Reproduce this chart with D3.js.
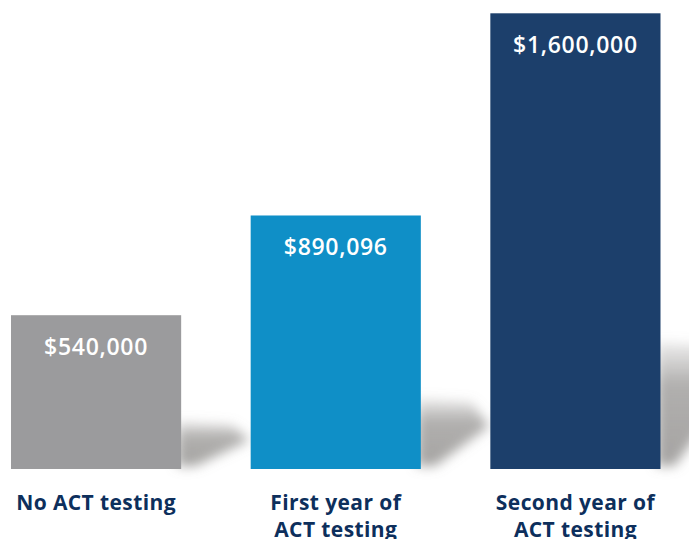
<!DOCTYPE html>
<html>
<head>
<meta charset="utf-8">
<script src="https://cdn.jsdelivr.net/npm/d3@7"></script>
<style>
  html, body { margin: 0; padding: 0; background: #ffffff; }
  svg { display: block; }
</style>
</head>
<body>
<div id="viz"></div>
<script>
// Chart data
const categories = ["No ACT testing", "First year of ACT testing", "Second year of ACT testing"];
const categoryLines = [["No ACT testing"], ["First year of", "ACT testing"], ["Second year of", "ACT testing"]];
const values = [540000, 890096, 1600000];
const valueLabels = ["$540,000", "$890,096", "$1,600,000"];
const barColors = ["#9b9b9d", "#0f8fc7", "#1c3f6b"];

const dims = { width: 689, height: 539, baseline: 469, top: 13.3, left: 11, right: 660.5 };

const svg = d3.select("#viz")
    .append("svg")
    .attr("width", dims.width)
    .attr("height", dims.height);

const defs = svg.append("defs");
defs.append("filter")
    .attr("id", "shadow-blur")
    .attr("x", "-50%").attr("y", "-50%")
    .attr("width", "200%").attr("height", "200%")
    .append("feGaussianBlur")
    .attr("stdDeviation", 6);

const grad = defs.append("linearGradient")
    .attr("id", "shadow-grad")
    .attr("x1", 0).attr("y1", 0)
    .attr("x2", 0).attr("y2", 1);
grad.append("stop").attr("offset", "0%").attr("stop-color", "#8f8d8b").attr("stop-opacity", 0.15);
grad.append("stop").attr("offset", "35%").attr("stop-color", "#8f8d8b").attr("stop-opacity", 0.7);
grad.append("stop").attr("offset", "100%").attr("stop-color", "#8f8d8b").attr("stop-opacity", 0.8);

const xScale = d3.scaleBand()
    .domain(categories)
    .range([dims.left, dims.right])
    .paddingInner(0.29)
    .paddingOuter(0);

const yScale = d3.scaleLinear()
    .domain([0, 1600000])
    .range([dims.baseline, dims.top]);

const data = categories.map((c, i) => ({
    cat: c, val: values[i], label: valueLabels[i], lines: categoryLines[i], color: barColors[i]
}));

const bw = xScale.bandwidth();

// shadows behind the bars
svg.append("g")
    .attr("class", "shadows")
    .selectAll("path")
    .data(data)
    .join("path")
    .attr("filter", "url(#shadow-blur)")
    .style("fill", "url(#shadow-grad)")
    .attr("d", d => {
        const xr = xScale(d.cat) + bw;
        const yb = yScale(0);
        const h = yb - yScale(d.val);
        const ys = yb - Math.max(48, 0.28 * h);
        const pts = [
            [xr - 4, ys],
            [xr + 0.3 * bw, ys + 4],
            [xr + 0.4 * bw, ys + (yb - ys) * 0.4],
            [xr + 14, yb - 3],
            [xr - 4, yb - 3]
        ];
        return d3.line()(pts) + "Z";
    });

// bars
svg.append("g")
    .attr("class", "bars")
    .selectAll("rect")
    .data(data)
    .join("rect")
    .attr("x", d => xScale(d.cat))
    .attr("y", d => yScale(d.val))
    .attr("width", bw)
    .attr("height", d => yScale(0) - yScale(d.val))
    .style("fill", d => d.color);

// value labels inside bars
svg.append("g")
    .attr("class", "values")
    .selectAll("text")
    .data(data)
    .join("text")
    .attr("x", d => xScale(d.cat) + bw / 2)
    .attr("y", d => yScale(d.val) + 40)
    .attr("text-anchor", "middle")
    .style("font-family", "'Open Sans', sans-serif")
    .style("font-weight", 600)
    .style("font-size", "23px")
    .style("letter-spacing", "0.7px")
    .style("fill", "#ffffff")
    .text(d => d.label);

// category labels below
const cats = svg.append("g")
    .attr("class", "categories")
    .selectAll("text")
    .data(data)
    .join("text")
    .attr("x", d => xScale(d.cat) + bw / 2)
    .attr("y", 510)
    .attr("text-anchor", "middle")
    .style("font-family", "'Open Sans', sans-serif")
    .style("font-weight", 700)
    .style("font-size", "21px")
    .style("letter-spacing", "0.4px")
    .style("fill", "#0d2f5c");

cats.selectAll("tspan")
    .data(d => d.lines.map(l => ({ l, x: xScale(d.cat) + bw / 2 })))
    .join("tspan")
    .attr("x", t => t.x)
    .attr("dy", (t, i) => i === 0 ? 0 : 27)
    .text(t => t.l);
</script>
</body>
</html>
